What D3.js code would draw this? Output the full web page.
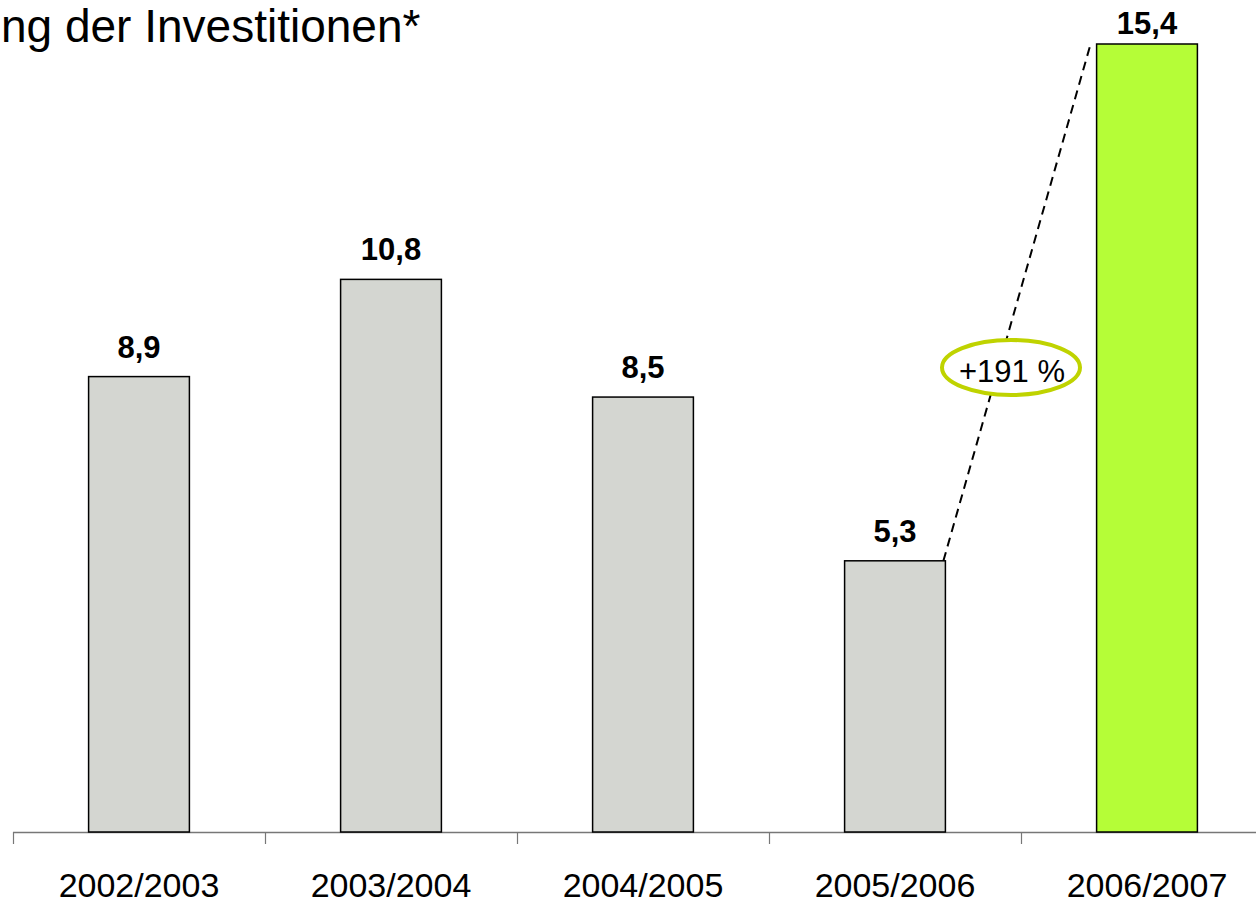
<!DOCTYPE html>
<html><head><meta charset="utf-8">
<script src="https://cdn.jsdelivr.net/npm/d3@7"></script>
<style>body{margin:0;background:#fff}svg{display:block}text{font-family:"Liberation Sans",Arial,sans-serif}</style>
</head><body>
<svg id="c" width="1256" height="903"></svg>
<script>
const categories = ["2002/2003","2003/2004","2004/2005","2005/2006","2006/2007"];
const values = [8.9, 10.8, 8.5, 5.3, 15.4];
const valueLabels = ["8,9","10,8","8,5","5,3","15,4"];
const barColors = ["#d4d6d1","#d4d6d1","#d4d6d1","#d4d6d1","#b5fd37"];
const title = "ng der Investitionen*";
const growthLabel = "+191 %";

const svg = d3.select("#c");
const x = d3.scaleBand().domain(categories).range([13, 1273]).paddingInner(0.6).paddingOuter(0.3);
const y = d3.scaleLinear().domain([0, 15.4]).range([832, 44]);

svg.append("text").attr("x", 1).attr("y", 42).attr("text-anchor","start")
  .attr("font-size", 46).attr("fill","#000").text(title);

// axis
svg.append("line").attr("x1", 13).attr("x2", 1256).attr("y1", 832.5).attr("y2", 832.5)
  .attr("stroke","#777").attr("stroke-width",1.5);
const step = x.step();
d3.range(categories.length + 1).forEach(i => {
  const tx = Math.round(13 + i*step) + 0.5;
  svg.append("line").attr("x1", tx).attr("x2", tx).attr("y1", 832).attr("y2", 844)
    .attr("stroke","#777").attr("stroke-width",1.2);
});

svg.selectAll("rect.bar").data(values).enter().append("rect")
  .attr("x", (d,i) => x(categories[i]))
  .attr("y", d => y(d))
  .attr("width", x.bandwidth())
  .attr("height", d => y(0) - y(d))
  .attr("fill", (d,i) => barColors[i])
  .attr("stroke","#000").attr("stroke-width",1.5);

svg.selectAll("text.val").data(values).enter().append("text")
  .attr("x", (d,i) => x(categories[i]) + x.bandwidth()/2)
  .attr("y", d => Math.max(y(d) - 19, 34))
  .attr("text-anchor","middle").attr("font-size",31).attr("font-weight","bold")
  .text((d,i) => valueLabels[i]);

svg.selectAll("text.cat").data(categories).enter().append("text")
  .attr("x", d => x(d) + x.bandwidth()/2)
  .attr("y", 897)
  .attr("text-anchor","middle").attr("font-size",34)
  .text(d => d);

// growth line
const x1 = x(categories[3]) + x.bandwidth(), y1 = y(values[3]);
const x2 = x(categories[4]) - 6, y2 = y(values[4]);
svg.append("line").attr("x1", x1 - 2).attr("y1", y1).attr("x2", x2).attr("y2", y2)
  .attr("stroke","#000").attr("stroke-width",2).attr("stroke-dasharray","9,6");

svg.append("ellipse").attr("cx", 1011).attr("cy", 367.5).attr("rx", 69).attr("ry", 27.5)
  .attr("fill","#fff").attr("stroke","#bfd300").attr("stroke-width",4);
svg.append("text").attr("x", 1012).attr("y", 382).attr("text-anchor","middle")
  .attr("font-size",31).text(growthLabel);
</script>
</body></html>
